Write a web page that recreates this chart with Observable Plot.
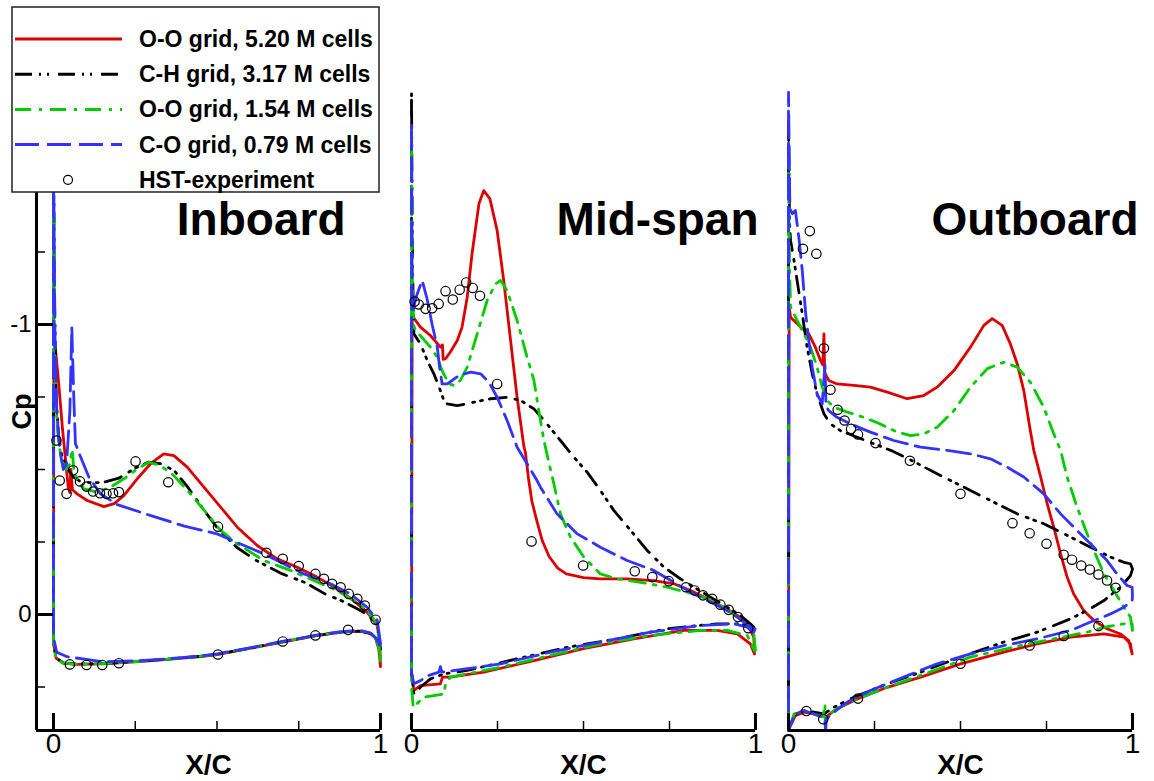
<!DOCTYPE html>
<html><head><meta charset="utf-8">
<script src="https://cdn.jsdelivr.net/npm/d3@7"></script>
<script src="https://cdn.jsdelivr.net/npm/@observablehq/plot@0.6"></script>
<style>
html,body{margin:0;padding:0;background:#fff;}
#chart{position:relative;width:1154px;height:781px;overflow:hidden;font-family:"Liberation Sans",Arial,sans-serif;}
</style></head><body><div id="chart"></div>
<script>
// ---------- labels ----------
const seriesNames = ["O-O grid, 5.20 M cells", "C-H grid, 3.17 M cells", "O-O grid, 1.54 M cells", "C-O grid, 0.79 M cells"];
const expName = "HST-experiment";
const panelNames = ["Inboard", "Mid-span", "Outboard"];
const xMajorTicks = [0, 1];
const xMinorTicks = [0.25, 0.5, 0.75];
const yMajorTicks = [-1, 0];
const yMinorTicks = [-1.75, -1.5, -1.25, -0.75, -0.5, -0.25, 0.25];
const yDomain = [-1.8, 0.4];

// ---------- Inboard [x/c, Cp] ----------
const in_red_up = [[0.001,-0.88],[0.006,-0.916],[0.016,-0.795],[0.027,-0.646],[0.037,-0.531],[0.045,-0.44],[0.05,-0.42],[0.053,-0.5],[0.058,-0.43],[0.072,-0.416],[0.103,-0.393],[0.154,-0.372],[0.185,-0.382],[0.215,-0.41],[0.256,-0.468],[0.297,-0.52],[0.337,-0.554],[0.368,-0.548],[0.409,-0.508],[0.46,-0.439],[0.511,-0.37],[0.562,-0.301],[0.623,-0.238],[0.684,-0.192],[0.745,-0.163],[0.806,-0.129],[0.867,-0.089],[0.918,-0.048],[0.959,-0.008],[0.99,0.038],[0.998,0.1],[1.0,0.18]];
const in_red_lo = [[0.0,0.1],[0.008,0.15],[0.03,0.168],[0.07,0.172],[0.15,0.17],[0.25,0.163],[0.35,0.155],[0.45,0.145],[0.5,0.138],[0.6,0.117],[0.7,0.095],[0.8,0.074],[0.86,0.064],[0.9,0.059],[0.94,0.058],[0.97,0.066],[0.985,0.082],[0.995,0.12],[1.0,0.18]];
const in_blk_up = [[0.0,-1.62],[0.003,-1.1],[0.008,-0.75],[0.015,-0.62],[0.025,-0.55],[0.04,-0.51],[0.06,-0.475],[0.08,-0.46],[0.11,-0.455],[0.15,-0.455],[0.2,-0.47],[0.25,-0.505],[0.29,-0.525],[0.33,-0.52],[0.37,-0.495],[0.41,-0.44],[0.46,-0.36],[0.5,-0.3],[0.56,-0.232],[0.62,-0.186],[0.7,-0.14],[0.77,-0.11],[0.83,-0.071],[0.88,-0.048],[0.92,-0.025],[0.96,0.0],[0.99,0.035],[1.0,0.12]];
const in_blk_lo = [[0.0,0.1],[0.008,0.15],[0.03,0.167],[0.07,0.171],[0.15,0.169],[0.25,0.162],[0.35,0.154],[0.45,0.144],[0.5,0.137],[0.6,0.116],[0.7,0.094],[0.8,0.073],[0.86,0.063],[0.9,0.058],[0.94,0.057],[0.97,0.065],[0.985,0.08],[0.995,0.11],[1.0,0.12]];
const in_grn_up = [[0.0,-1.6],[0.003,-1.0],[0.008,-0.72],[0.015,-0.6],[0.025,-0.53],[0.04,-0.5],[0.05,-0.52],[0.057,-0.57],[0.062,-0.5],[0.072,-0.462],[0.093,-0.433],[0.134,-0.422],[0.174,-0.439],[0.215,-0.468],[0.256,-0.502],[0.292,-0.525],[0.327,-0.514],[0.368,-0.479],[0.419,-0.416],[0.47,-0.347],[0.511,-0.29],[0.562,-0.244],[0.643,-0.186],[0.725,-0.152],[0.796,-0.117],[0.867,-0.083],[0.918,-0.048],[0.959,-0.014],[0.99,0.032],[1.0,0.16]];
const in_grn_lo = [[0.0,0.1],[0.008,0.152],[0.03,0.168],[0.07,0.171],[0.15,0.169],[0.25,0.162],[0.35,0.154],[0.45,0.144],[0.5,0.137],[0.6,0.116],[0.7,0.094],[0.8,0.073],[0.86,0.063],[0.9,0.058],[0.94,0.057],[0.97,0.065],[0.985,0.08],[0.995,0.115],[1.0,0.16]];
const in_blu_up = [[0.0,-1.68],[0.002,-1.3],[0.005,-0.9],[0.01,-0.7],[0.02,-0.56],[0.03,-0.5],[0.04,-0.52],[0.05,-0.7],[0.056,-0.99],[0.062,-0.75],[0.067,-0.59],[0.083,-0.543],[0.108,-0.474],[0.144,-0.416],[0.195,-0.379],[0.3,-0.34],[0.4,-0.305],[0.5,-0.278],[0.643,-0.209],[0.766,-0.14],[0.847,-0.106],[0.908,-0.071],[0.959,-0.025],[0.99,0.02],[1.0,0.1]];
const in_blu_lo = [[0.0,0.08],[0.01,0.13],[0.04,0.145],[0.1,0.155],[0.15,0.163],[0.25,0.16],[0.35,0.153],[0.45,0.143],[0.5,0.136],[0.6,0.115],[0.7,0.093],[0.8,0.072],[0.86,0.062],[0.9,0.057],[0.94,0.056],[0.97,0.064],[0.985,0.08],[0.995,0.1],[1.0,0.13]];
const in_exp = [[0.009,-0.6],[0.019,-0.462],[0.04,-0.416],[0.06,-0.497],[0.081,-0.459],[0.101,-0.441],[0.121,-0.424],[0.142,-0.418],[0.162,-0.416],[0.182,-0.418],[0.2,-0.422],[0.251,-0.528],[0.351,-0.456],[0.503,-0.303],[0.651,-0.213],[0.701,-0.192],[0.75,-0.167],[0.801,-0.14],[0.827,-0.123],[0.852,-0.106],[0.878,-0.094],[0.903,-0.071],[0.929,-0.054],[0.952,-0.031],[0.985,0.018],[0.05,0.172],[0.101,0.174],[0.149,0.174],[0.2,0.168],[0.503,0.138],[0.701,0.093],[0.801,0.072],[0.901,0.053]];

// ---------- Mid-span ----------
const mid_red_up = [[0.002,-1.06],[0.005,-1.025],[0.026,-0.991],[0.055,-0.962],[0.084,-0.922],[0.09,-0.93],[0.092,-0.88],[0.099,-0.882],[0.113,-0.905],[0.133,-0.945],[0.147,-0.991],[0.162,-1.094],[0.176,-1.244],[0.196,-1.416],[0.21,-1.462],[0.228,-1.433],[0.249,-1.324],[0.268,-1.152],[0.288,-0.945],[0.307,-0.749],[0.327,-0.577],[0.331,-0.56],[0.34,-0.47],[0.35,-0.39],[0.365,-0.32],[0.38,-0.255],[0.4,-0.2],[0.425,-0.16],[0.45,-0.14],[0.5,-0.127],[0.549,-0.123],[0.627,-0.123],[0.704,-0.117],[0.763,-0.106],[0.811,-0.083],[0.86,-0.054],[0.908,-0.025],[0.947,0.003],[0.976,0.032],[0.995,0.078],[0.997,0.136]];
const mid_red_lo = [[0.0,0.2],[0.007,0.262],[0.026,0.245],[0.084,0.239],[0.09,0.216],[0.113,0.216],[0.21,0.199],[0.356,0.159],[0.5,0.118],[0.646,0.084],[0.792,0.055],[0.888,0.055],[0.947,0.067],[0.985,0.101],[0.997,0.136]];
const mid_blk_up = [[0.0,-1.8],[0.003,-1.2],[0.007,-0.968],[0.026,-0.933],[0.046,-0.876],[0.065,-0.83],[0.084,-0.772],[0.094,-0.738],[0.104,-0.726],[0.133,-0.72],[0.181,-0.732],[0.23,-0.744],[0.278,-0.749],[0.317,-0.738],[0.356,-0.709],[0.394,-0.657],[0.433,-0.6],[0.472,-0.543],[0.511,-0.49],[0.549,-0.428],[0.588,-0.359],[0.637,-0.29],[0.685,-0.221],[0.734,-0.163],[0.782,-0.123],[0.821,-0.094],[0.869,-0.06],[0.918,-0.025],[0.956,0.003],[0.985,0.032],[0.995,0.044]];
const mid_blk_lo = [[0.0,0.2],[0.007,0.274],[0.026,0.251],[0.055,0.222],[0.094,0.205],[0.162,0.193],[0.307,0.153],[0.453,0.113],[0.598,0.084],[0.743,0.049],[0.888,0.032],[0.947,0.032],[0.98,0.038],[0.995,0.044]];
const mid_grn_up = [[0.0,-1.65],[0.003,-1.1],[0.007,-0.991],[0.021,-0.968],[0.055,-0.922],[0.075,-0.887],[0.089,-0.841],[0.109,-0.795],[0.123,-0.79],[0.142,-0.807],[0.162,-0.853],[0.191,-0.968],[0.22,-1.083],[0.244,-1.14],[0.259,-1.152],[0.278,-1.117],[0.307,-1.014],[0.336,-0.887],[0.356,-0.807],[0.37,-0.703],[0.385,-0.6],[0.4,-0.52],[0.414,-0.45],[0.433,-0.347],[0.462,-0.267],[0.501,-0.198],[0.549,-0.14],[0.598,-0.123],[0.666,-0.111],[0.743,-0.094],[0.801,-0.077],[0.86,-0.054],[0.908,-0.025],[0.947,0.009],[0.976,0.032],[0.995,0.067],[1.0,0.124]];
const mid_grn_lo = [[0.0,0.25],[0.005,0.32],[0.036,0.285],[0.094,0.274],[0.099,0.239],[0.113,0.216],[0.259,0.182],[0.404,0.141],[0.549,0.101],[0.695,0.072],[0.84,0.055],[0.918,0.055],[0.976,0.072],[0.997,0.124]];
const mid_blu_up = [[0.0,-1.7],[0.002,-1.04],[0.015,-1.1],[0.031,-1.152],[0.045,-1.09],[0.06,-1.0],[0.075,-0.922],[0.082,-0.85],[0.089,-0.795],[0.104,-0.795],[0.138,-0.824],[0.172,-0.836],[0.201,-0.83],[0.225,-0.801],[0.249,-0.749],[0.278,-0.669],[0.307,-0.577],[0.336,-0.52],[0.365,-0.462],[0.375,-0.439],[0.423,-0.347],[0.482,-0.278],[0.549,-0.232],[0.627,-0.186],[0.704,-0.152],[0.763,-0.111],[0.811,-0.077],[0.86,-0.048],[0.908,-0.02],[0.947,0.009],[0.985,0.044],[0.999,0.05]];
const mid_blu_lo = [[0.0,0.2],[0.007,0.239],[0.026,0.228],[0.05,0.21],[0.08,0.199],[0.084,0.18],[0.088,0.199],[0.162,0.187],[0.259,0.17],[0.404,0.13],[0.549,0.095],[0.695,0.061],[0.84,0.038],[0.937,0.032],[0.976,0.044],[0.995,0.061],[0.999,0.05]];
const mid_exp = [[0.009,-1.079],[0.021,-1.069],[0.041,-1.054],[0.06,-1.056],[0.079,-1.071],[0.099,-1.115],[0.12,-1.086],[0.14,-1.12],[0.159,-1.145],[0.178,-1.126],[0.199,-1.099],[0.249,-0.795],[0.349,-0.252],[0.499,-0.169],[0.649,-0.149],[0.7,-0.129],[0.748,-0.115],[0.798,-0.094],[0.823,-0.083],[0.847,-0.066],[0.874,-0.054],[0.898,-0.034],[0.922,-0.016],[0.949,0.009],[0.979,0.047]];

// ---------- Outboard ----------
const out_red_up = [[0.002,-1.06],[0.006,-1.025],[0.035,-0.991],[0.059,-0.968],[0.078,-0.922],[0.093,-0.876],[0.1,-0.86],[0.103,-0.968],[0.105,-0.84],[0.107,-0.83],[0.117,-0.807],[0.141,-0.795],[0.19,-0.79],[0.238,-0.784],[0.287,-0.767],[0.345,-0.744],[0.393,-0.755],[0.432,-0.784],[0.481,-0.841],[0.529,-0.922],[0.568,-0.997],[0.592,-1.02],[0.621,-0.997],[0.645,-0.933],[0.665,-0.864],[0.684,-0.772],[0.703,-0.634],[0.713,-0.566],[0.733,-0.474],[0.752,-0.382],[0.771,-0.301],[0.791,-0.209],[0.81,-0.129],[0.829,-0.071],[0.858,-0.014],[0.888,0.021],[0.926,0.049],[0.965,0.067],[0.989,0.09],[0.999,0.136]];
const out_red_lo = [[0.0,0.4],[0.006,0.383],[0.02,0.349],[0.045,0.337],[0.074,0.343],[0.108,0.354],[0.141,0.325],[0.2,0.291],[0.287,0.251],[0.384,0.216],[0.5,0.17],[0.626,0.13],[0.723,0.101],[0.82,0.078],[0.917,0.067],[0.975,0.078],[0.994,0.101],[0.999,0.136]];
const out_blk_up = [[0.0,-1.7],[0.003,-1.35],[0.006,-1.29],[0.016,-1.221],[0.025,-1.152],[0.04,-1.037],[0.054,-0.922],[0.069,-0.83],[0.083,-0.761],[0.103,-0.692],[0.122,-0.657],[0.151,-0.634],[0.2,-0.611],[0.248,-0.589],[0.297,-0.566],[0.355,-0.533],[0.432,-0.485],[0.51,-0.439],[0.587,-0.393],[0.665,-0.347],[0.742,-0.313],[0.82,-0.267],[0.878,-0.232],[0.936,-0.198],[0.975,-0.18],[0.994,-0.175],[1.0,-0.157]];
const out_blk_lo = [[0.0,0.4],[0.004,0.383],[0.02,0.343],[0.045,0.331],[0.074,0.337],[0.103,0.343],[0.132,0.32],[0.19,0.285],[0.287,0.239],[0.384,0.199],[0.5,0.147],[0.626,0.095],[0.723,0.061],[0.82,0.015],[0.868,-0.014],[0.917,-0.048],[0.965,-0.094],[0.994,-0.134],[1.0,-0.157]];
const out_grn_up = [[0.0,-1.55],[0.003,-1.2],[0.006,-1.06],[0.025,-1.014],[0.045,-0.968],[0.064,-0.922],[0.083,-0.853],[0.098,-0.784],[0.112,-0.738],[0.132,-0.715],[0.171,-0.698],[0.219,-0.68],[0.267,-0.657],[0.316,-0.629],[0.355,-0.617],[0.393,-0.623],[0.432,-0.646],[0.481,-0.703],[0.529,-0.784],[0.578,-0.848],[0.626,-0.87],[0.665,-0.853],[0.703,-0.801],[0.742,-0.715],[0.771,-0.623],[0.791,-0.566],[0.81,-0.474],[0.839,-0.37],[0.868,-0.278],[0.892,-0.209],[0.917,-0.14],[0.946,-0.083],[0.975,-0.025],[0.994,0.009],[1.0,0.055]];
const out_grn_lo = [[0.0,0.4],[0.003,0.39],[0.016,0.343],[0.045,0.331],[0.074,0.343],[0.1,0.352],[0.106,0.31],[0.107,0.4],[0.109,0.35],[0.141,0.325],[0.2,0.291],[0.287,0.251],[0.384,0.21],[0.529,0.147],[0.674,0.107],[0.771,0.084],[0.868,0.061],[0.917,0.044],[0.975,0.032],[0.999,0.032],[1.0,0.055]];
const out_blu_up = [[0.0,-1.8],[0.004,-1.4],[0.011,-1.382],[0.02,-1.393],[0.03,-1.301],[0.04,-1.186],[0.05,-1.037],[0.059,-0.945],[0.069,-0.853],[0.083,-0.761],[0.098,-0.726],[0.106,-0.86],[0.109,-0.72],[0.117,-0.703],[0.141,-0.68],[0.18,-0.657],[0.238,-0.629],[0.306,-0.6],[0.384,-0.577],[0.462,-0.566],[0.529,-0.554],[0.587,-0.537],[0.636,-0.508],[0.684,-0.474],[0.742,-0.416],[0.791,-0.347],[0.839,-0.29],[0.888,-0.232],[0.926,-0.186],[0.955,-0.14],[0.984,-0.1],[0.999,-0.094],[1.0,-0.06]];
const out_blu_lo = [[0.0,0.4],[0.006,0.377],[0.02,0.343],[0.045,0.331],[0.074,0.343],[0.098,0.354],[0.106,0.36],[0.108,0.4],[0.11,0.36],[0.132,0.337],[0.171,0.302],[0.238,0.262],[0.335,0.216],[0.432,0.17],[0.529,0.136],[0.626,0.107],[0.723,0.084],[0.82,0.055],[0.878,0.026],[0.936,-0.002],[0.975,-0.025],[0.999,-0.048],[1.0,-0.06]];
const out_exp = [[0.042,-1.261],[0.062,-1.322],[0.081,-1.244],[0.103,-0.918],[0.122,-0.775],[0.143,-0.706],[0.163,-0.669],[0.182,-0.64],[0.202,-0.621],[0.253,-0.591],[0.353,-0.53],[0.5,-0.416],[0.651,-0.315],[0.701,-0.28],[0.75,-0.244],[0.8,-0.206],[0.824,-0.189],[0.851,-0.169],[0.876,-0.155],[0.901,-0.138],[0.926,-0.117],[0.951,-0.092],[0.052,0.333],[0.101,0.361],[0.202,0.29],[0.5,0.17],[0.701,0.107],[0.8,0.074],[0.901,0.04]];

// ---------- styles ----------
const seriesColors = ["#dd0000", "#000000", "#00cc00", "#3333ff"];
const seriesDash = [null, "17,7,2,6,2,9", "16,8,3,8", "24,8"];
const FONT = '"Liberation Sans", Arial, Helvetica, sans-serif';

const panels = [
  {name: panelNames[0], left: 0, width: 395, ml: 36, mr: 15, xDomain: [-0.052, 1], titleDx: -35, yAxis: true,
   curves: [[in_red_up, in_red_lo], [in_blk_up, in_blk_lo], [in_grn_up, in_grn_lo], [in_blu_up, in_blu_lo]], exp: in_exp},
  {name: panelNames[1], left: 395, width: 380, ml: 16, mr: 20, xDomain: [0, 1], titleDx: 3, yAxis: false,
   curves: [[mid_red_up, mid_red_lo], [mid_blk_up, mid_blk_lo], [mid_grn_up, mid_grn_lo], [mid_blu_up, mid_blu_lo]], exp: mid_exp},
  {name: panelNames[2], left: 775, width: 379, ml: 13, mr: 22, xDomain: [0, 1], titleDx: 6, yAxis: false,
   curves: [[out_red_up, out_red_lo], [out_blk_up, out_blk_lo], [out_grn_up, out_grn_lo], [out_blu_up, out_blu_lo]], exp: out_exp}
];

const chart = document.getElementById("chart");

panels.forEach(p => {
  const marks = [];
  p.curves.forEach(([up, lo], s) => {
    const path = [...up].reverse().concat(lo).map(([x, cp]) => ({x, cp}));
    marks.push(Plot.line(path, {x: "x", y: "cp", stroke: seriesColors[s], strokeWidth: 2.8,
      strokeDasharray: seriesDash[s] || undefined, strokeLinejoin: "round"}));
  });
  marks.push(Plot.dot(p.exp.map(([x, cp]) => ({x, cp})), {x: "x", y: "cp", r: 4.7, stroke: "black", strokeWidth: 1.2, fill: "none"}));
  // panel title
  marks.push(Plot.text([p.name], {frameAnchor: "top-right", dx: p.titleDx, dy: 142, lineAnchor: "bottom", textAnchor: "end",
    fontSize: 46, fontWeight: "bold", fill: "black"}));
  // x axis
  marks.push(Plot.ruleY([yDomain[1]], {stroke: "black", strokeWidth: 3}));
  marks.push(Plot.axisX({ticks: xMajorTicks, tickSize: -17, text: null, label: null, strokeWidth: 3}));
  marks.push(Plot.axisX({ticks: xMinorTicks, tickSize: -9, text: null, label: null, strokeWidth: 1.5}));
  marks.push(Plot.axisX({ticks: xMajorTicks, tickSize: 0, tickPadding: 3, tickFormat: d => String(d), fontSize: 28, label: null, fill: "black"}));
  marks.push(Plot.text(["X/C"], {frameAnchor: "bottom", dy: 43, lineAnchor: "bottom", textAnchor: "middle", fontSize: 28, fontWeight: "bold", fill: "black"}));
  if (p.yAxis) {
    marks.push(Plot.ruleX([p.xDomain[0]], {stroke: "black", strokeWidth: 3}));
    marks.push(Plot.axisY({ticks: yMajorTicks, tickSize: -17, text: null, label: null, strokeWidth: 3}));
    marks.push(Plot.axisY({ticks: yMinorTicks, tickSize: -9, text: null, label: null, strokeWidth: 1.5}));
    marks.push(Plot.axisY({ticks: yMajorTicks, tickSize: 0, tickPadding: 5, tickFormat: d => String(d), fontSize: 24, label: null, fill: "black"}));
    marks.push(Plot.text(["Cp"], {frameAnchor: "left", dx: -6, rotate: -90, lineAnchor: "bottom", textAnchor: "middle", fontSize: 27, fontWeight: "bold", fill: "black"}));
  }
  const svg = Plot.plot({
    width: p.width, height: 781,
    marginLeft: p.ml, marginRight: p.mr, marginTop: 92, marginBottom: 51,
    x: {domain: p.xDomain, axis: null},
    y: {domain: yDomain, reverse: true, axis: null},
    style: {fontFamily: FONT, background: "transparent", overflow: "visible", color: "black"},
    marks
  });
  svg.style.position = "absolute";
  svg.style.left = p.left + "px";
  svg.style.top = "0px";
  chart.appendChild(svg);
});

// ---------- legend ----------
const lg = d3.select(chart).append("svg")
  .attr("width", 370).attr("height", 188)
  .style("position", "absolute").style("left", "11px").style("top", "6px")
  .style("font-family", FONT);
lg.append("rect").attr("x", 1).attr("y", 1).attr("width", 367).attr("height", 185)
  .attr("fill", "white").attr("stroke", "#222").attr("stroke-width", 1.5);
const rowY = i => 33 + i * 35.2;
seriesNames.forEach((name, i) => {
  lg.append("line").attr("x1", 4).attr("x2", 111).attr("y1", rowY(i)).attr("y2", rowY(i))
    .attr("stroke", seriesColors[i]).attr("stroke-width", 3)
    .attr("stroke-dasharray", seriesDash[i] || null);
  lg.append("text").attr("x", 128).attr("y", rowY(i)).attr("dy", "0.35em")
    .attr("font-size", 23).attr("font-weight", "bold").attr("fill", "black").text(name);
});
lg.append("circle").attr("cx", 57).attr("cy", rowY(4)).attr("r", 4.5)
  .attr("fill", "none").attr("stroke", "black").attr("stroke-width", 1.2);
lg.append("text").attr("x", 128).attr("y", rowY(4)).attr("dy", "0.35em")
  .attr("font-size", 23).attr("font-weight", "bold").attr("fill", "black").text(expName);
</script></body></html>
